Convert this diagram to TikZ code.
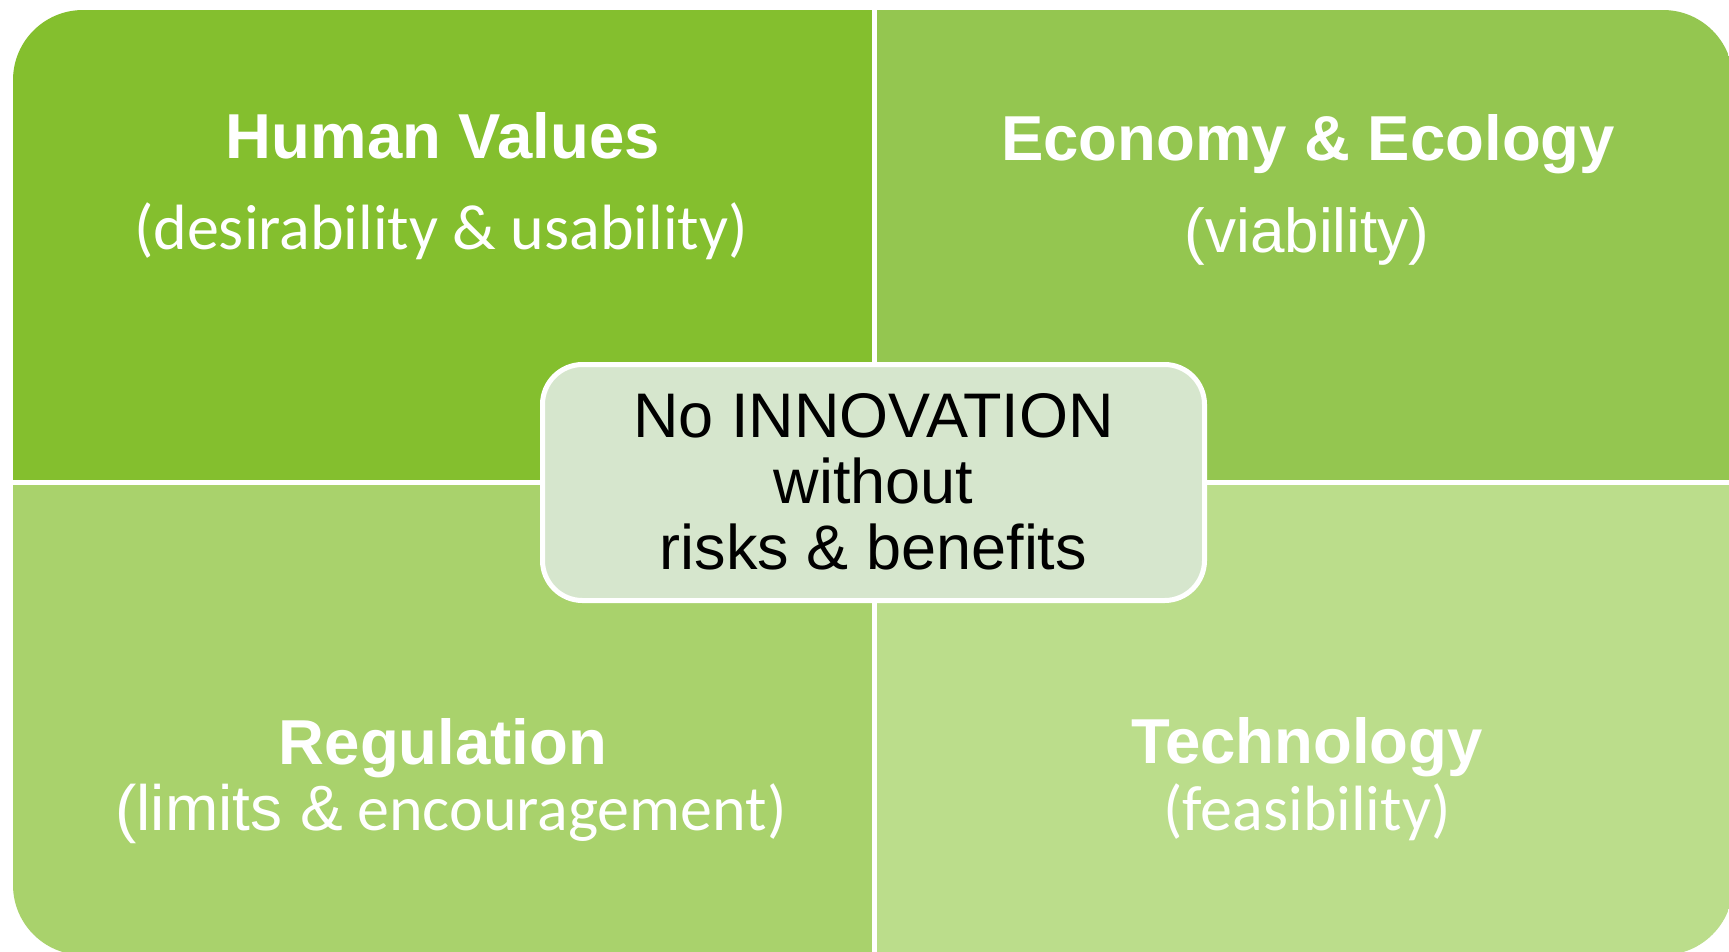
\documentclass[tikz,border=0pt]{standalone}
\usepackage{fontspec}
\setmainfont{Liberation Sans}
\newfontfamily\arialf{Liberation Sans}
\newfontfamily\calib{Carlito}
\definecolor{qa}{RGB}{132,191,46}
\definecolor{qb}{RGB}{148,198,80}
\definecolor{qc}{RGB}{169,210,108}
\definecolor{qd}{RGB}{187,221,139}
\definecolor{corefill}{RGB}{214,230,205}
\begin{document}
\begin{tikzpicture}[x=1pt,y=-1pt,
  title/.style={anchor=base, text=white, font=\arialf\bfseries\fontsize{63.5}{75}\selectfont, inner sep=0pt},
  sub/.style={anchor=base, text=white, font=\calib\fontsize{64}{75}\selectfont, inner sep=0pt},
  coreline/.style={anchor=base, text=black, font=\arialf\fontsize{63}{66}\selectfont, inner sep=0pt},
  corebox/.style={draw=white, line width=5pt, fill=corefill, rounded corners=40pt, inner sep=0pt}]
\useasboundingbox (0,0) rectangle (1729,951);
\fill[white] (0,0) rectangle (1729,951);
\begin{scope}
  \clip[rounded corners=70pt] (13,10) rectangle (1733,955);
  \fill[qa] (13,10) rectangle (872,479.5);
  \fill[qb] (877,10) rectangle (1733,479.5);
  \fill[qc] (13,484.5) rectangle (872,955);
  \fill[qd] (877,484.5) rectangle (1733,955);
\end{scope}
% quadrant texts
\node[title] (hv) at (443,158) {Human Values};
\node[sub] (hvs) at (441,249) {(desirability \& usability)};
\node[title] (ee) at (1308,160) {Economy \& Ecology};
\node[sub, font=\arialf\fontsize{62}{75}\selectfont] (ees) at (1307,252) {(viability)};
\node[title] (rg) at (443,764) {Regulation};
\node[sub] (rgs) at (451,830) {{\arialf(limits \&} encouragement)};
\node[title] (tc) at (1307,763) {Technology};
\node[sub] (tcs) at (1307,830) {(feasibility)};
% center box
\node[corebox, minimum width=662pt, minimum height=236pt] (core) at (873.5,482.5) {};
\node[coreline] (c1) at (873.5,437) {No INNOVATION};
\node[coreline] (c2) at (873.5,503) {without};
\node[coreline] (c3) at (873.5,569) {risks \& benefits};
\end{tikzpicture}
\end{document}
